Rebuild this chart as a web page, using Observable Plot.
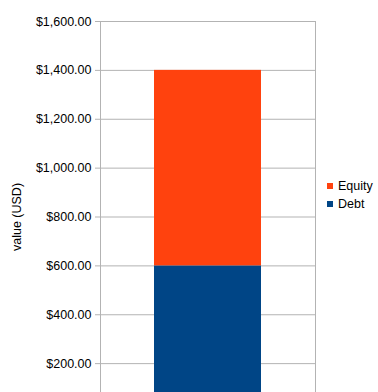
<!DOCTYPE html>
<html>
<head>
<meta charset="utf-8">
<script src="https://cdn.jsdelivr.net/npm/d3@7"></script>
<script src="https://cdn.jsdelivr.net/npm/@observablehq/plot@0.6"></script>
<style>
  html, body { margin: 0; padding: 0; background: #fff; overflow: hidden; }
  #wrap { position: relative; width: 378px; height: 392px; overflow: hidden; font-family: "Liberation Sans", Arial, sans-serif; }
  #legend { position: absolute; left: 327px; top: 177px; font-size: 12.5px; color: #000; line-height: 18px; }
  #legend .item { display: flex; align-items: center; white-space: nowrap; }
  #legend .sw { width: 6px; height: 6px; margin-right: 5px; display: inline-block; }
</style>
</head>
<body>
<div id="wrap"><div id="chart"></div><div id="legend"></div></div>
<script>
const categories = ["Company"];
const seriesNames = ["Debt", "Equity"];
const debtValues = [600];
const equityValues = [800];
const yTicks = [200, 400, 600, 800, 1000, 1200, 1400, 1600];
const seriesColors = ["#004586", "#ff420e"];
const legendOrder = ["Equity", "Debt"];

const rows = [];
categories.forEach((c, i) => {
  rows.push({category: c, series: "Debt", value: debtValues[i]});
  rows.push({category: c, series: "Equity", value: equityValues[i]});
});

const fmt = d => "$" + d3.format(",.2f")(d);

const chart = Plot.plot({
  width: 378,
  height: 432,
  marginTop: 21,
  marginBottom: 20,
  marginLeft: 100,
  marginRight: 63,
  style: {fontFamily: "Liberation Sans, Arial, sans-serif", fontSize: "12.5px", color: "#000", background: "#fff"},
  x: {domain: categories, paddingInner: 0, paddingOuter: 0.5, axis: null},
  y: {domain: [0, 1600]},
  color: {domain: seriesNames, range: seriesColors},
  marks: [
    Plot.gridY(yTicks, {stroke: "#b3b3b3", strokeOpacity: 1, strokeWidth: 1}),
    Plot.barY(rows, {x: "category", y: "value", fill: "series"}),
    Plot.frame({stroke: "#b3b3b3", strokeWidth: 1}),
    Plot.axisY({ticks: yTicks, tickFormat: fmt, tickSize: 5, tickPadding: 4, stroke: "#b3b3b3",
      label: "value (USD)", labelAnchor: "center", labelArrow: "none", labelOffset: 88})
  ]
});
document.getElementById("chart").appendChild(chart);

const legend = document.getElementById("legend");
legendOrder.forEach(name => {
  const item = document.createElement("div");
  item.className = "item";
  const sw = document.createElement("span");
  sw.className = "sw";
  sw.style.background = seriesColors[seriesNames.indexOf(name)];
  item.appendChild(sw);
  item.appendChild(document.createTextNode(name));
  legend.appendChild(item);
});
</script>
</body>
</html>
